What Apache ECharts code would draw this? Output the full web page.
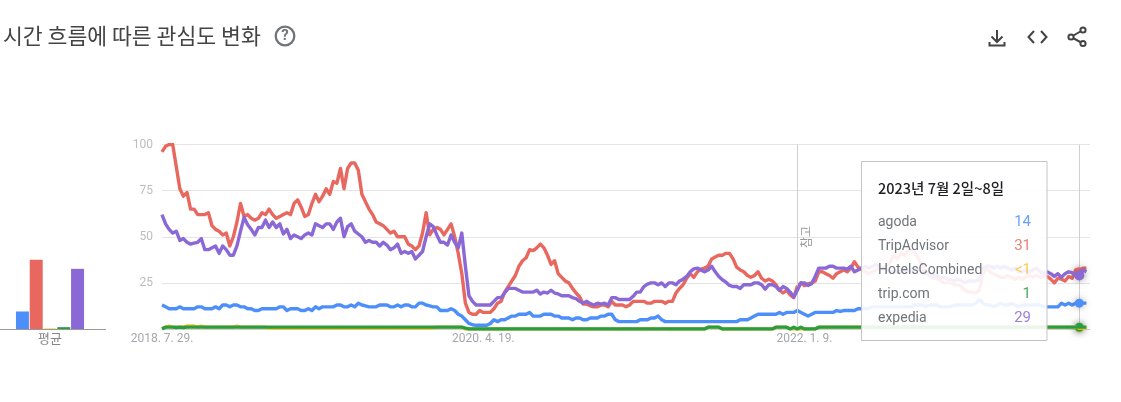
<!DOCTYPE html>
<html><head><meta charset="utf-8">
<style>html,body{margin:0;padding:0;background:#fff}#c{width:1121px;height:402px}</style>
<script src="https://cdn.jsdelivr.net/npm/echarts@6/dist/echarts.min.js"></script>
</head><body><div id="c"></div>
<script>
const titleText='시간 흐름에 따른 관심도 변화';
const names=['agoda','TripAdvisor','HotelsCombined','trip.com','expedia'];
const colors=['#4d8ffa','#e8685f','#f9c32c','#2a9d3c','#8a69d6'];
const tickWeeks=[0,90,180];
const tickLabels=['2018. 7. 29.','2020. 4. 19.','2022. 1. 9.'];
const yTicks=[25,50,75,100];
const avgValues=[9.5,37.5,0.3,1,32.6];
const noteWeek=178, hoverWeek=257, weekSlots=261;
const tipHeader='2023년 7월 2일~8일';
const tipValues=['14','31','<1','1','29'];
const agoda=[
13,12,11,11,11,12,11,11,11,11,
12,12,11,11,11,12,11,13,13,12,
13,13,12,12,11,11,10,10,11,11,
11,11,11,12,12,10,11,11,11,10,
10,11,10,12,11,12,12,12,12,13,
13,12,12,13,12,14,13,12.5,12,12,
12,13,13,13,12,12,13,12,13,13,
12,12,14,14,13,12.5,12,12,10,10,
10,11,10,8,7,5,3,2.3,2,2,
2,2,3,5,4,5,5,6,7,7,
8,8,8,9,7,7,7,8,8,8,
7,7,6,6,6,5,6,6,5,5,
6,6,6,7,7,8,8,5,4,4,
4,4,4,4,5,5,5,6,6,7,
5,4,4,4,4,4,4,4,4,4,
4,4,4,4,4,4,4,4,4,4,
4,4,5,5,5,6,7,8,8,8,
8,8,8,9,8,9,9,9,10,9,
8,7,8,9,9,9,9,9,9,10,
9.5,10,10,10,10,11,11,11,11,12,
12,12,12,12,12,12,12,12,12,12,
12,13,13,13,12,13,13,13,12,12,
12,12,13,13,13,13,13,13,14,16,
14,13,13,12,13,14,13,13,14,13,
12,13,13,13,13,13,13,12,12,12,
12,12,14,13,14,13,14,14,14,14];
const tripAdvisor=[
96,99,100,100,88,76,72,74,65,65,
62,62,62,63,56,54,53,51,52,45,
50,58,68,61,62,60,59,60,63,62,
65,62,60,61,62,63,62,68,70,66,
61,62,68,73,69,72,76,73,80,79,
87,76,87,90,90,86,73,69,65,62,
58,57,56,54,52,53,50,50,50,46,
45,43,45,52,63,51,54,55,54,51,
54,57,50,41,30,14,9,8,8,10,
9,9,9,11,14,15,20,23,26,29,
34,37,38.5,43,42.5,44,46,44,40,35,
37,30,28,26,25,22,19.5,17.5,13.5,13.5,
12.6,12,12,13,13,12,15,13,13,13,
12,13,15,15,15,15,14,14,15,15,
15,14,15,15,19.5,22,24,27.5,30,28,
31,32.5,33,34,38,39,40,40,41,41,
38,33.5,32,31,29,28,29,31,27.5,26,
27,26,24,21,19.5,21,18.5,17,23,25,
23.5,24.5,25,26,31,31,30,29,27.5,30,
31,32,31,33,36.5,33.5,32.5,31,30,31,
32,33,33,34,36,40,38,41,40,42.5,
42.5,41,38,34,31,29,27.5,27.5,26.5,25,
25,25,24,24,23,21,20,20,19.5,21,
30,33,31,30,29,28,28,29,28,27,
28,27,28,29,28,29,28,28.5,28.5,27,
25,27.5,27,26,28.5,27.5,32,31,33,33];
const hotelsCombined=[
0.5,1,1.6,1,1,1,1,1.6,1.6,1.6,
1,1.6,1,1,1,1,1,1,1,1,
1,1.6,1,1,1,1,1,1,1,1,
0.5,0.5,0.5,0.5,0.5,0.5,0.5,0.5,0.5,0.5,
0.5,0.5,0.5,0.5,0.5,0.5,0.5,0.5,0.5,0.5,
0.5,0.5,0.5,0.5,0.5,0.5,0.5,0.5,0.5,0.5,
0.5,0.5,0.5,0.5,0.5,0.5,0.5,0.5,0.5,0.5,
0.5,0.5,0.5,0.5,0.5,0.5,0.5,1,1,1,
1,1,1,1,1,0,0,0,0,0,
0,0,0,0,0,0,0,0,0,0,
0,0,0,0,0,0,0,0,0,0,
0,0,0,0,0,0,0,0,0,0,
0,0,0,0,0,0,0,0,0,0,
0,0,0,0,0,0,0,0,0,0,
0,0,0,0,0,0,0,0,0,0,
0,0,0,1,1,1,1,0,0,0,
0,0,0,0,0,0,0,0,0,0,
0,0,1,1,1,1,0,0,0,0,
0,0,0,0,1,1,1,1,1,1,
1,1,1,1,1,1,1,1,1,1,
1,1,1,1,1,1,1,1,1,1,
1,1,1,1,1,1,1,1,1,1,
1,1,1,1,1,1,1,1,1,1,
1,1,1,1,1,1,1,1,1,1,
1,1,1,1,1,1,1,1,1,1,
1,1,1,1,1,1,1,0.5,0.5,0.5];
const tripCom=[
0,1,1,1,0.8,1,0.8,1,1,1,
1,1,1,1,1,1,1,1,1,1,
1,1,1,1,1,1,1,1,1,1,
1,1,1,1,1,1,1,1,1,1,
1,1,1,1,1,1,1,1,1,1,
1,1,1,1,1,1,1,1,1,1,
1,1,1,1,1,1,1,1,1,1,
1,1,1,1,1,1,1,1,1,1,
1,1,1,1,1,0.5,0,0,0,0,
0,0,0,0,0,0,0,0,0,0,
0,0,0,0,0,0,0,0,0,0,
0,0,0,0,0,0,0,0,0,0,
0,0,0,0,0,0,0,0,0,0,
0,0,0,0,0,0,0,0,0,0,
0,0,0,0,0,0,0,0,0,0,
0,0,0,1,1,1,1,0,0,0,
0,0,0,0,0,0,0,0,0,0,
0,0,1,1,1,1,0,1,0,1,
0,0,0,0,1,1,1,1,1,1,
1,1,1,1,1,1,1,1,1,1,
1,1,1,1,1,1,1,1,1,1,
1,1,1,1,1,1,1,1,1,1,
1,1,1,1,1,1,1,1,1,1,
1,1,1,1,1,1,1,1,1,1,
1,1,1,1,1,1,1,1,1,1,
1,1,1,1,1,1,1,1,1,1];
const expedia=[
62,57,54,52,53,48,49,47,46,46.5,
47,49,43,43,44,45,41,45,43,40,
40,45,53,60.5,56.5,54,51,55,55,59,
55,58,55,57,51.5,54,49,51,50,49,
51,52,51,57,56,55,57,57,54,58,
60,50,55.5,57,53,51.5,50,47,48,47,
47,45,47,45.5,43,44,46,41,42,41,
42,38,40,42,50,57,55.5,51,47,47,
45.5,51,47,44,52,34,18,15,13,13,
13,13,13,15,17,17,19.5,22,22,22,
21,20,20,20,20,21,19,20,19.5,21,
19.5,19,18,18,18,17,16.5,15,14,15,
13.7,13,14,13.5,14,13,17,17,16,16,
16,16,17.7,20,20,23,24.3,25,25,24,
25,23,25,25,24,26,27,28.5,31,32.6,
33,32,31,32,34,31,28.5,26.7,25.4,23.6,
23,23,22,24,24,24,25,25,24,21.6,
24,24,23,21,23,22,20,17.3,21,25,
25,23.6,24.5,28.5,33,33,33,34,34,33,
33,33,32.5,34,31,32,33,34,33,34,
35,34,33,32,31,31,31,31,32,31,
32,33,32,31,30,30,29,29,28,28,
27,27,26,27,26,25,26,26,26,27,
33,34,34,33,34,33,34,33,32,33,
31,31,32,31,32,33,31,30,31,30,
28.5,30,28,30,31,30.5,29,29,32,31];
const seriesValues=[agoda,tripAdvisor,hotelsCombined,tripCom,expedia];
const categories=Array.from({length:weekSlots},(_,i)=>String(i));

const F='Roboto, "Noto Sans CJK KR", sans-serif', K='"Noto Sans CJK KR", Roboto, sans-serif';
const TOP=144.5, H=184.5;
const chart=echarts.init(document.getElementById('c'),null,{renderer:'canvas'});
const lines=seriesValues.map((vals,s)=>({
  name:names[s],type:'line',xAxisIndex:0,yAxisIndex:0,data:vals,showSymbol:false,symbol:'none',
  smooth:false,z:3+s,silent:true,animation:false,
  lineStyle:{color:colors[s],width:3.4,join:'round'},itemStyle:{color:colors[s]},
  markPoint:{silent:true,animation:false,symbol:'circle',symbolSize:s===4?10:9,
    itemStyle:{color:colors[s],shadowBlur:7,shadowColor:'rgba(90,90,90,.55)'},label:{show:false},
    data:[{coord:[hoverWeek,vals[hoverWeek]]}]},
  ...(s===0?{markLine:{silent:true,animation:false,symbol:'none',label:{show:false},
    lineStyle:{color:'#cfcfcf',width:1,type:'solid'},
    data:[{xAxis:noteWeek},{xAxis:hoverWeek}]}}:{})
}));
const bars=avgValues.map((v,s)=>({
  name:names[s],type:'bar',xAxisIndex:1,yAxisIndex:1,data:[v],barWidth:13,barGap:'6%',silent:true,animation:false,
  itemStyle:{color:colors[s]}
}));
const tipRows=names.flatMap((n,s)=>{
  const y=222+s*24;
  return [
    {type:'text',z:101,style:{text:n,x:878,y,font:'14px '+F,fill:'#70757a',verticalAlign:'middle'}},
    {type:'text',z:101,style:{text:tipValues[s],x:1031,y,font:'15px '+F,fill:colors[s],opacity:0.85,align:'right',verticalAlign:'middle'}}
  ];
});
const ic='#444';
const pl=(points)=>({type:'polyline',z:50,shape:{points},style:{fill:'none',stroke:ic,lineWidth:2}});
const graphic=[
 {type:'text',z:50,style:{text:titleText,x:3,y:36,font:'21.6px '+K,fill:'#444',verticalAlign:'middle'}},
 {type:'circle',z:50,shape:{cx:285,cy:36,r:9.3},style:{fill:'none',stroke:'#70757a',lineWidth:2.3}},
 {type:'text',z:50,style:{text:'?',x:285,y:36.5,font:'bold 15px '+F,fill:'#70757a',align:'center',verticalAlign:'middle'}},
 pl([[997,30],[997,42]]),
 pl([[991.5,36.5],[997,42],[1002.5,36.5]]),
 pl([[989.5,42],[989.5,45.5],[1004.5,45.5],[1004.5,42]]),
 pl([[1034,31],[1028.5,37],[1034,43]]),
 pl([[1041,31],[1046.5,37],[1041,43]]),
 pl([[1083,30],[1071,37],[1083,43.5]]),
 {type:'circle',z:50,shape:{cx:1083,cy:30,r:2.6},style:{fill:'#fff',stroke:ic,lineWidth:2}},
 {type:'circle',z:50,shape:{cx:1071,cy:37,r:2.6},style:{fill:'#fff',stroke:ic,lineWidth:2}},
 {type:'circle',z:50,shape:{cx:1083,cy:43.5,r:2.6},style:{fill:'#fff',stroke:ic,lineWidth:2}},
 {type:'line',z:2,shape:{x1:99,y1:329.5,x2:106,y2:329.5},style:{stroke:'#9a9a9a',lineWidth:1}},
 {type:'text',z:50,rotation:Math.PI/2,x:806,y:237,style:{text:'참고',x:0,y:0,font:'12px '+K,fill:'#9a9a9a',align:'center',verticalAlign:'middle'}},
 {type:'rect',z:100,shape:{x:861.5,y:161.5,width:185.5,height:179},style:{fill:'rgba(255,255,255,0.9)',stroke:'#c4c4c4',lineWidth:1}},
 {type:'text',z:101,style:{text:tipHeader,x:878,y:188,font:'500 14.5px '+K,fill:'#202124',verticalAlign:'middle'}},
 ...tipRows
];
chart.setOption({
  animation:false,backgroundColor:'#fff',
  grid:[{left:162,top:TOP,width:928,height:H},{left:0,top:TOP,width:100,height:H}],
  xAxis:[
   {type:'category',gridIndex:0,data:categories,boundaryGap:false,
    axisLine:{lineStyle:{color:'#cfcfcf'}},axisTick:{show:false},splitLine:{show:false},
    axisLabel:{interval:i=>tickWeeks.includes(+i),color:'#a4a8ac',fontFamily:F,fontSize:12,margin:4,
      formatter:(v)=>{const k=tickWeeks.indexOf(+v);return k<0?'':tickLabels[k];}}},
   {type:'category',gridIndex:1,data:['평균'],
    axisLine:{lineStyle:{color:'#9a9a9a'}},axisTick:{show:false},
    axisLabel:{color:'#888',fontFamily:K,fontSize:13,margin:3}}
  ],
  yAxis:[
   {type:'value',gridIndex:0,min:0,max:100,interval:25,
    axisLine:{show:false},axisTick:{show:false},
    splitLine:{lineStyle:{color:'#e4e4e4',width:1}},
    axisLabel:{color:'#bdbdbd',fontFamily:F,fontSize:12,margin:9,
      formatter:v=>yTicks.includes(v)?String(v):''}},
   {type:'value',gridIndex:1,min:0,max:100,show:false}
  ],
  series:[...lines,...bars],
  graphic
});
</script></body></html>
